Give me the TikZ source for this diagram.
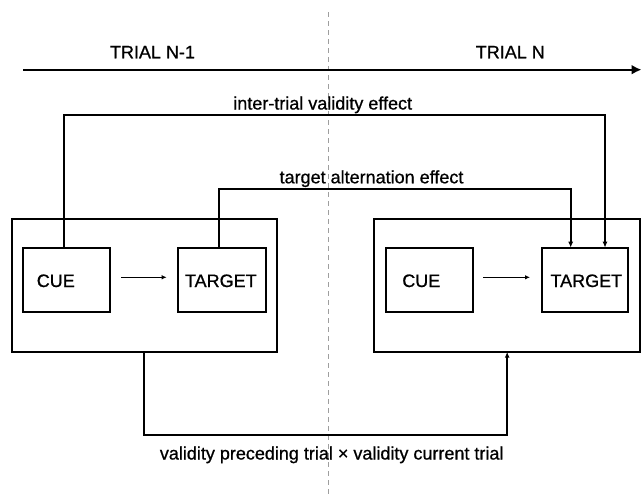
\documentclass[tikz,border=0pt]{standalone}
\usepackage{fontspec}
\setmainfont[FakeBold=0.8,AutoFakeBold=0]{Liberation Sans}
\newfontfamily\diagfont[FakeBold=0.8]{Liberation Sans}
\usetikzlibrary{arrows.meta}
\begin{document}
\begin{tikzpicture}[x=1pt,y=-1pt,
  box/.style={draw, line width=2.2pt, inner sep=0pt, outer sep=0pt},
  lbl/.style={anchor=base, inner sep=0pt, font=\diagfont\fontsize{18}{20}\selectfont},
  conn/.style={line width=2.1pt, -{Latex[length=6pt,width=5pt]}},
  small/.style={line width=1.2pt, -{Latex[length=5pt,width=4.5pt]}},
  divider/.style={draw=black!38, line width=0.9pt, dash pattern=on 5pt off 4pt}
]
\useasboundingbox (0,0) rectangle (642,496);
\fill[white] (0,0) rectangle (642,496);

% divider
\coordinate (dvT) at (328.3,12);
\coordinate (dvB) at (328.3,496);
\draw[divider] (dvT) -- (dvB);

% time line
\coordinate (tlS) at (23.3,69.7);
\coordinate (tlE) at (641.5,69.7);
\draw[line width=2.4pt, -{Latex[length=10pt,width=10pt]}] (tlS) -- (tlE);
\node[lbl] (tn1) at (152.5,58.3) {TRIAL N-1};
\node[lbl] (tn) at (510.3,58.3) {TRIAL N};

% boxes
\node[box, minimum width=265.3pt, minimum height=132.4pt] (outerL) at (144.35,285.5) {};
\node[box, minimum width=87.3pt, minimum height=64pt] (cueL) at (66.35,279.7) {};
\node[box, minimum width=87.4pt, minimum height=64pt] (tgtL) at (222,279.7) {};
\node[box, minimum width=265.7pt, minimum height=132.4pt] (outerR) at (507.15,285.5) {};
\node[box, minimum width=87.3pt, minimum height=64pt] (cueR) at (429.35,279.7) {};
\node[box, minimum width=86.6pt, minimum height=64pt] (tgtR) at (585,279.7) {};

\node[lbl] (cueLt) at (55.8,287) {CUE};
\node[lbl] (tgtLt) at (220.8,287) {TARGET};
\node[lbl] (cueRt) at (421.3,287) {CUE};
\node[lbl] (tgtRt) at (586.3,287) {TARGET};

% small arrows
\draw[small] ([xshift=11pt,yshift=2.4pt]cueL.east) -- ([xshift=-11.6pt,yshift=2.4pt]tgtL.west);
\draw[small] ([xshift=10.3pt,yshift=2.4pt]cueR.east) -- ([xshift=-11.7pt,yshift=2.4pt]tgtR.west);

% inter-trial validity effect
\coordinate (itv) at (322.7,115);
\draw[conn] ([xshift=-2.35pt]cueL.north) |- (itv) -| ([xshift=20pt]tgtR.north);
\node[lbl] (itvl) at (322.7,109.5) {inter-trial validity effect};

% target alternation effect
\coordinate (tae) at (371.5,189.3);
\draw[conn] ([xshift=-3pt]tgtL.north) |- (tae) -| ([xshift=-14.3pt]tgtR.north);
\node[lbl] (tael) at (371.5,183.3) {target alternation effect};

% validity interaction
\coordinate (vpc) at (331.7,435);
\draw[conn] (outerL.south) |- (vpc) -| (outerR.south);
\node[lbl] (vpcl) at (331.7,459.5) {validity preceding trial × validity current trial};
\end{tikzpicture}
\end{document}
